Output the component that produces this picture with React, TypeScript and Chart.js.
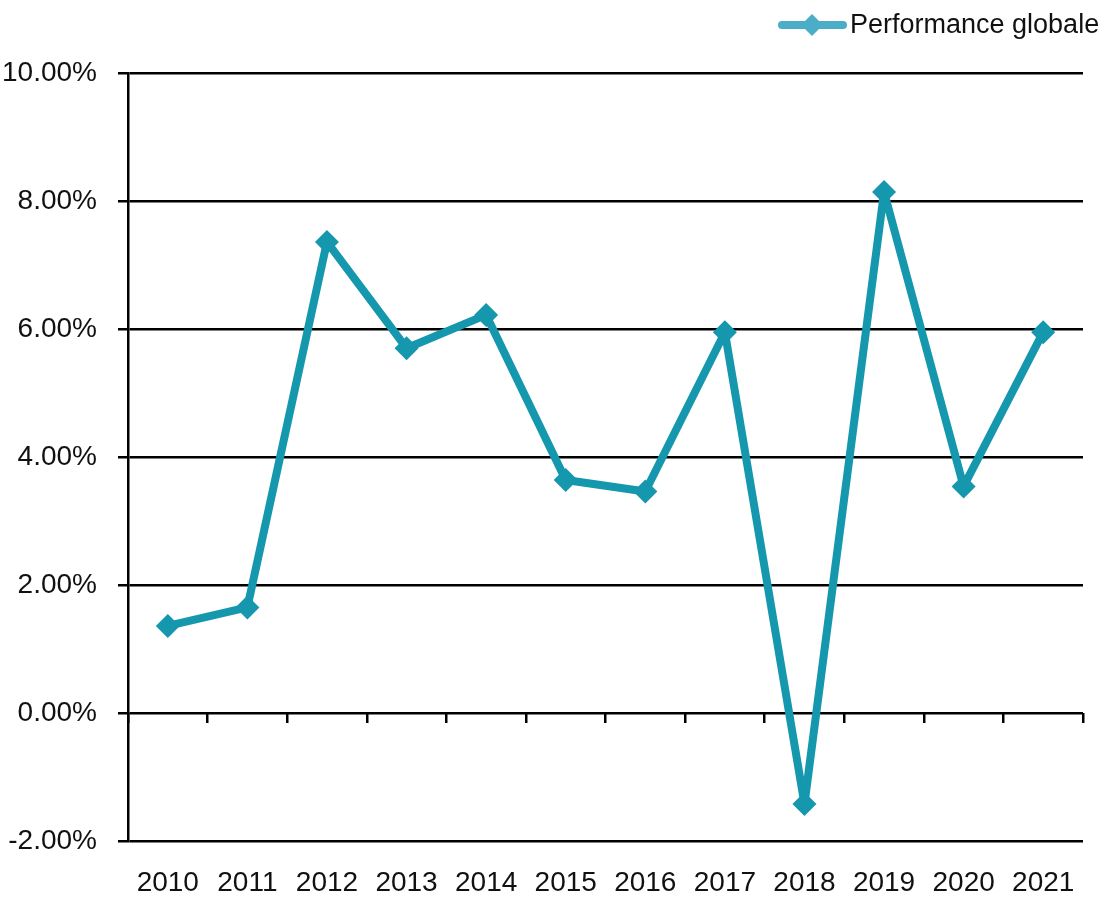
import React, { useEffect, useRef } from "react";
import { Chart, registerables } from "chart.js";

Chart.register(...registerables);

const categories = ["2010", "2011", "2012", "2013", "2014", "2015", "2016", "2017", "2018", "2019", "2020", "2021"];
const performanceGlobale = [1.36, 1.65, 7.36, 5.7, 6.22, 3.64, 3.46, 5.95, -1.42, 8.14, 3.54, 5.95];
const seriesLabel = "Performance globale";
const yMin = -2;
const yMax = 10;
const yStep = 2;

const FONT = "'Liberation Sans', Arial, sans-serif";
const LINE_COLOR = "#1597ae";
const LEGEND_COLOR = "#4badc8";

const legendPlugin = {
  id: "customLegend",
  afterDraw(chart: any) {
    const ctx = chart.ctx;
    ctx.save();
    const y = 25;
    ctx.strokeStyle = LEGEND_COLOR;
    ctx.lineWidth = 8;
    ctx.lineCap = "round";
    ctx.beginPath();
    ctx.moveTo(782, y);
    ctx.lineTo(843, y);
    ctx.stroke();
    ctx.fillStyle = LEGEND_COLOR;
    ctx.beginPath();
    ctx.moveTo(812, y - 11);
    ctx.lineTo(823, y);
    ctx.lineTo(812, y + 11);
    ctx.lineTo(801, y);
    ctx.closePath();
    ctx.fill();
    ctx.fillStyle = "#111";
    ctx.font = `27px ${FONT}`;
    ctx.textAlign = "left";
    ctx.textBaseline = "middle";
    ctx.fillText(seriesLabel, 850, y + 1);
    ctx.restore();
  },
};

export default function App() {
  const ref = useRef<HTMLCanvasElement>(null);
  useEffect(() => {
    document.body.style.margin = "0";
    const chart = new Chart(ref.current!, {
      type: "line",
      data: {
        labels: categories,
        datasets: [
          {
            label: seriesLabel,
            data: performanceGlobale,
            borderColor: LINE_COLOR,
            backgroundColor: LINE_COLOR,
            borderWidth: 8,
            borderJoinStyle: "round",
            pointStyle: "rectRot",
            pointRadius: 12,
            pointBorderWidth: 0,
            pointBackgroundColor: LINE_COLOR,
            tension: 0,
            xAxisID: "x",
          },
        ],
      },
      options: {
        responsive: false,
        animation: false,
        devicePixelRatio: 1,
        layout: { padding: { top: 73, right: 24, left: 0, bottom: 0 } },
        plugins: { legend: { display: false }, tooltip: { enabled: false } },
        scales: {
          x: {
            type: "category",
            position: "bottom",
            offset: true,
            grid: { display: false, drawTicks: false },
            border: { display: false },
            ticks: {
              color: "#111",
              font: { family: FONT, size: 28 },
              padding: 25,
              maxRotation: 0,
              autoSkip: false,
            },
            afterFit(scale: any) {
              scale.height = 56;
            },
          },
          x2: {
            type: "category",
            axis: "x",
            position: { y: 0 } as any,
            offset: true,
            grid: {
              offset: true,
              drawOnChartArea: false,
              drawTicks: true,
              tickLength: 10,
              color: "#000",
              lineWidth: 2.5,
            },
            border: { display: false },
            ticks: { display: false },
          },
          y: {
            min: yMin,
            max: yMax,
            ticks: {
              stepSize: yStep,
              color: "#111",
              font: { family: FONT, size: 28 },
              padding: 21,
              callback: (v: any) => Number(v).toFixed(2) + "%",
            },
            grid: { color: "#000", lineWidth: 2.5, tickLength: 10 },
            border: { display: true, color: "#000", width: 2.5 },
            afterFit(scale: any) {
              scale.width = 128;
            },
          },
        },
      },
      plugins: [legendPlugin],
    });
    return () => chart.destroy();
  }, []);
  return (
    <div style={{ position: "relative", width: 1107, height: 897 }}>
      <canvas ref={ref} width={1107} height={897} style={{ display: "block" }} />
    </div>
  );
}
